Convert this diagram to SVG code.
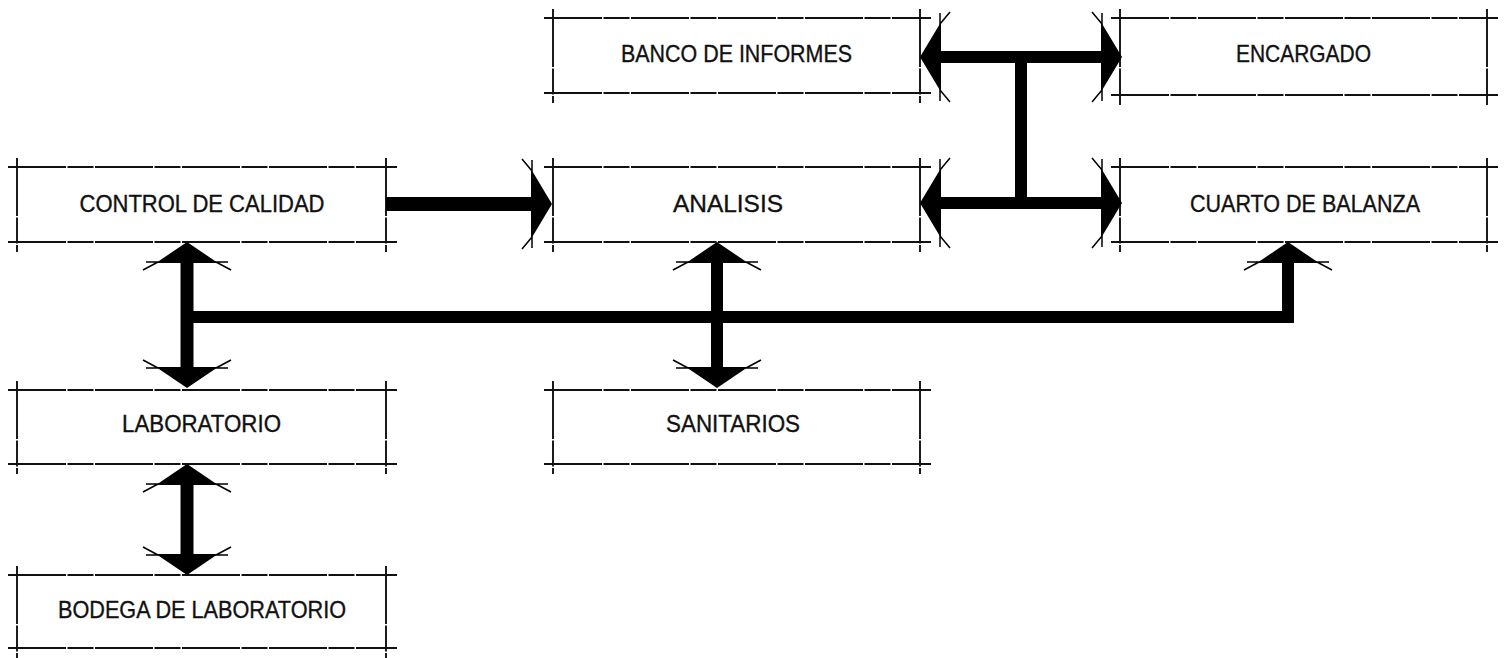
<svg xmlns="http://www.w3.org/2000/svg" xmlns:xlink="http://www.w3.org/1999/xlink" width="1506" height="658" viewBox="0 0 1506 658">
<style>
.bx{stroke:#111;stroke-width:1.9;fill:none;stroke-dasharray:58 1.5 26 1.5}
.lbl{font-family:"Liberation Sans",Arial,sans-serif;font-size:24px;fill:#111;stroke:#111;stroke-width:0.35;text-anchor:middle}
.sh{stroke:#000;fill:none;stroke-linecap:butt;stroke-linejoin:miter}
.barb{stroke:#000;stroke-width:1.5;fill:none}
</style>
<defs>
<g id="head">
<polygon points="0,0 -31,21 31,21" fill="#000"/>
<path class="barb" d="M-29,20 L-44,28 M-41,20 L-26,20 M29,20 L44,28 M41,20 L26,20"/>
</g>
<g id="headh">
<polygon points="0,0 -35,21 35,21" fill="#000"/>
<path class="barb" d="M-33,20 L-45,30 M-44,20 L-30,20 M33,20 L45,30 M44,20 L30,20"/>
</g>
</defs>
<rect width="1506" height="658" fill="#fff"/>

<g id="banco">
<path class="bx" d="M544,18 H931 M544,93 H931 M553,9 V103 M920,9 V103"/>
<text class="lbl" x="736.5" y="62" textLength="231" lengthAdjust="spacingAndGlyphs">BANCO DE INFORMES</text>
</g>
<g id="encargado">
<path class="bx" d="M1111,18 H1498 M1111,95 H1498 M1120,9 V105 M1487,9 V105"/>
<text class="lbl" x="1303.5" y="62" textLength="135" lengthAdjust="spacingAndGlyphs">ENCARGADO</text>
</g>
<g id="control">
<path class="bx" d="M8,167 H397 M8,242 H397 M17,158 V252 M386,158 V252"/>
<text class="lbl" x="202" y="212" textLength="245" lengthAdjust="spacingAndGlyphs">CONTROL DE CALIDAD</text>
</g>
<g id="analisis">
<path class="bx" d="M544,167 H931 M544,242 H931 M553,158 V252 M920,158 V252"/>
<text class="lbl" x="728" y="212" textLength="110" lengthAdjust="spacingAndGlyphs">ANALISIS</text>
</g>
<g id="cuarto">
<path class="bx" d="M1111,167 H1498 M1111,242 H1498 M1120,158 V252 M1487,158 V252"/>
<text class="lbl" x="1305" y="212" textLength="230" lengthAdjust="spacingAndGlyphs">CUARTO DE BALANZA</text>
</g>
<g id="laboratorio">
<path class="bx" d="M8,390 H397 M8,464 H397 M17,381 V474 M386,381 V474"/>
<text class="lbl" x="201.5" y="432" textLength="159" lengthAdjust="spacingAndGlyphs">LABORATORIO</text>
</g>
<g id="sanitarios">
<path class="bx" d="M544,390 H931 M544,464 H931 M553,381 V474 M920,381 V474"/>
<text class="lbl" x="733" y="432" textLength="134" lengthAdjust="spacingAndGlyphs">SANITARIOS</text>
</g>
<g id="bodega">
<path class="bx" d="M8,575 H397 M8,648 H397 M17,566 V658 M386,566 V658"/>
<text class="lbl" x="202" y="618" textLength="288" lengthAdjust="spacingAndGlyphs">BODEGA DE LABORATORIO</text>
</g>

<g id="connectors">
<line class="sh" x1="386" y1="204" x2="536" y2="204" stroke-width="14"/>
<use xlink:href="#headh" href="#headh" transform="translate(552,204) rotate(90)"/>

<line class="sh" x1="936" y1="57" x2="1106" y2="57" stroke-width="12"/>
<use xlink:href="#headh" href="#headh" transform="translate(920,57) rotate(-90)"/>
<use xlink:href="#headh" href="#headh" transform="translate(1122,57) rotate(90)"/>
<line class="sh" x1="1021" y1="51" x2="1021" y2="209" stroke-width="12"/>
<line class="sh" x1="936" y1="203" x2="1106" y2="203" stroke-width="12"/>
<use xlink:href="#headh" href="#headh" transform="translate(920,203) rotate(-90)"/>
<use xlink:href="#headh" href="#headh" transform="translate(1122,203) rotate(90)"/>

<line class="sh" x1="187" y1="258" x2="187" y2="372" stroke-width="13"/>
<use xlink:href="#head" href="#head" transform="translate(187,242)"/>
<use xlink:href="#head" href="#head" transform="translate(187,388) rotate(180)"/>
<path class="sh" d="M187,317 H1288 V258" stroke-width="12"/>
<use xlink:href="#head" href="#head" transform="translate(1288,242)"/>

<line class="sh" x1="717" y1="258" x2="717" y2="372" stroke-width="12"/>
<use xlink:href="#head" href="#head" transform="translate(717,242)"/>
<use xlink:href="#head" href="#head" transform="translate(717,388) rotate(180)"/>

<line class="sh" x1="187" y1="480" x2="187" y2="560" stroke-width="13"/>
<use xlink:href="#head" href="#head" transform="translate(187,464)"/>
<use xlink:href="#head" href="#head" transform="translate(187,575) rotate(180)"/>
</g>
</svg>
